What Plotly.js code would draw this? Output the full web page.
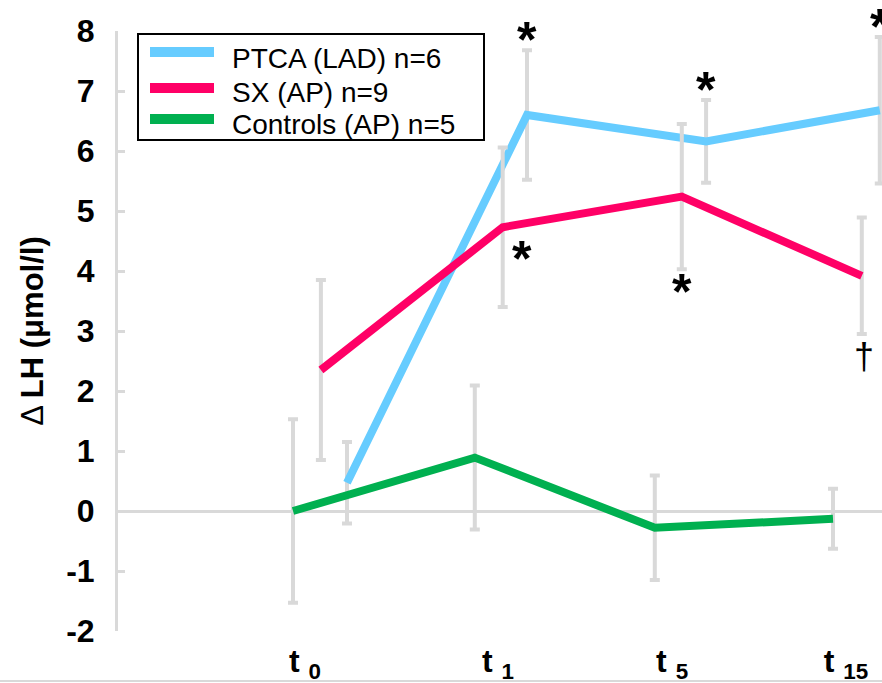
<!DOCTYPE html>
<html>
<head>
<meta charset="utf-8">
<script src="https://cdn.plot.ly/plotly-3.0.1.min.js"></script>
<style>html,body{margin:0;padding:0;background:#fff;}#chart{width:882px;height:683px;}</style>
</head>
<body>
<div id="chart"></div>
<script>
// ---- data ----
const timeLabels = ['t <sub>0</sub>', 't <sub>1</sub>', 't <sub>5</sub>', 't <sub>15</sub>'];
const yTickValues = [-2, -1, 0, 1, 2, 3, 4, 5, 6, 7, 8];
const yTickLabels = ['-2', '-1', '0', '1', '2', '3', '4', '5', '6', '7', '8'];
const seriesNames = ['PTCA (LAD) n=6', 'SX (AP) n=9', 'Controls (AP) n=5'];

const ptcaX = [0.30, 1.30, 2.295, 3.26];
const ptcaMean = [0.47, 6.60, 6.16, 6.68];
const ptcaErr = [0.68, 1.08, 0.69, 1.22];

const sxX = [0.155, 1.165, 2.16, 3.16];
const sxMean = [2.35, 4.73, 5.24, 3.92];
const sxErr = [1.50, 1.33, 1.21, 0.97];

const ctrlX = [0.00, 1.01, 2.01, 3.00];
const ctrlMean = [0.00, 0.89, -0.28, -0.13];
const ctrlErr = [1.53, 1.20, 0.87, 0.50];

// significance marks: series index, point index, symbol, side
const markSeries = [0, 1, 0, 1, 0, 1];
const markPoint = [1, 1, 2, 2, 3, 3];
const markSymbol = ['*', '*', '*', '*', '*', '†'];
const markSide = ['above', 'right', 'above', 'below', 'above', 'below'];

// ---- styling ----
const colors = ['#66CCFF', '#FF0066', '#00B050'];
const GREY = '#d9d9d9';
const FONT = 'Liberation Sans, Arial, sans-serif';

const xs = [ptcaX, sxX, ctrlX];
const means = [ptcaMean, sxMean, ctrlMean];
const errs = [ptcaErr, sxErr, ctrlErr];

const traces = seriesNames.map((name, i) => ({
  type: 'scatter',
  mode: 'lines',
  name: name,
  x: xs[i],
  y: means[i],
  line: {color: colors[i], width: 8},
  error_y: {type: 'data', array: errs[i], visible: true, color: GREY, thickness: 4, width: 5},
  showlegend: false,
  hoverinfo: 'skip'
}));

const ML = 118, MT = 31, PW = 764, PH = 600;
const px2xp = p => (p - ML) / PW;
const py2yp = p => (MT + PH - p) / PH;

const shapes = [];
const annotations = [];

// manual legend (matches the reference box)
shapes.push({type: 'rect', xref: 'paper', yref: 'paper', x0: px2xp(138), x1: px2xp(484), y0: py2yp(140), y1: py2yp(34),
  line: {color: '#000', width: 2}, fillcolor: 'rgba(255,255,255,1)', layer: 'above'});
const legRowLine = [52, 88, 119];
const legRowText = [58, 92, 124];
seriesNames.forEach((name, i) => {
  shapes.push({type: 'line', xref: 'paper', yref: 'paper', x0: px2xp(150), x1: px2xp(214),
    y0: py2yp(legRowLine[i]), y1: py2yp(legRowLine[i]), line: {color: colors[i], width: 10}, layer: 'above'});
  annotations.push({xref: 'paper', yref: 'paper', x: px2xp(230), y: py2yp(legRowText[i]), xanchor: 'left', yanchor: 'middle',
    text: name, showarrow: false, font: {family: FONT, size: 28, color: '#000'}});
});

// bottom thin line
shapes.push({type: 'line', xref: 'paper', yref: 'paper', x0: px2xp(0), x1: 1, y0: py2yp(681), y1: py2yp(681),
  line: {color: GREY, width: 2}});

// significance marks
markSymbol.forEach((sym, k) => {
  const s = markSeries[k], p = markPoint[k];
  const isDagger = sym === '†';
  let y, xshift = 0, yshift = 0;
  if (markSide[k] === 'above') { y = means[s][p] + errs[s][p]; yshift = 10; }
  else if (markSide[k] === 'below') { y = means[s][p] - errs[s][p]; yshift = isDagger ? -22 : -23; }
  else { y = means[s][p]; xshift = 19; yshift = -32; }
  annotations.push({xref: 'x', yref: 'y', x: xs[s][p], y: y, xshift: xshift + (isDagger ? 2 : 0), yshift: yshift,
    xanchor: 'center', yanchor: 'middle', text: sym, showarrow: false,
    font: {family: FONT, size: isDagger ? 36 : 50, weight: isDagger ? 'normal' : 'bold', color: '#000'}});
});

const layout = {
  width: 882, height: 683,
  margin: {l: ML, r: 882 - ML - PW, t: MT, b: 683 - MT - PH},
  paper_bgcolor: '#fff', plot_bgcolor: '#fff',
  showlegend: false,
  font: {family: FONT, color: '#000'},
  xaxis: {
    range: [-(293 - ML) / 180, -(293 - ML) / 180 + PW / 180],
    showgrid: false, zeroline: false, showline: false, ticks: '',
    tickmode: 'array', tickvals: [0.067, 1.139, 2.106, 3.072], ticktext: timeLabels,
    tickfont: {family: FONT, size: 32, weight: 'bold', color: '#000'},
    ticklabelstandoff: 8,
    fixedrange: true
  },
  yaxis: {
    range: [-2, 8],
    tickmode: 'array', tickvals: yTickValues, ticktext: yTickLabels,
    showgrid: false, showline: true, linecolor: GREY, linewidth: 3,
    zeroline: true, zerolinecolor: GREY, zerolinewidth: 3,
    ticks: 'inside', ticklen: 7, tickwidth: 3, tickcolor: GREY,
    tickfont: {family: FONT, size: 32, weight: 'bold', color: '#000'},
    ticklabelstandoff: 14,
    title: {text: 'Δ <b>LH (μmol/l)</b>', font: {family: FONT, size: 31, color: '#000'}, standoff: 14},
    fixedrange: true
  },
  shapes: shapes,
  annotations: annotations
};

Plotly.newPlot('chart', traces, layout, {staticPlot: true, displayModeBar: false});
</script>
</body>
</html>
